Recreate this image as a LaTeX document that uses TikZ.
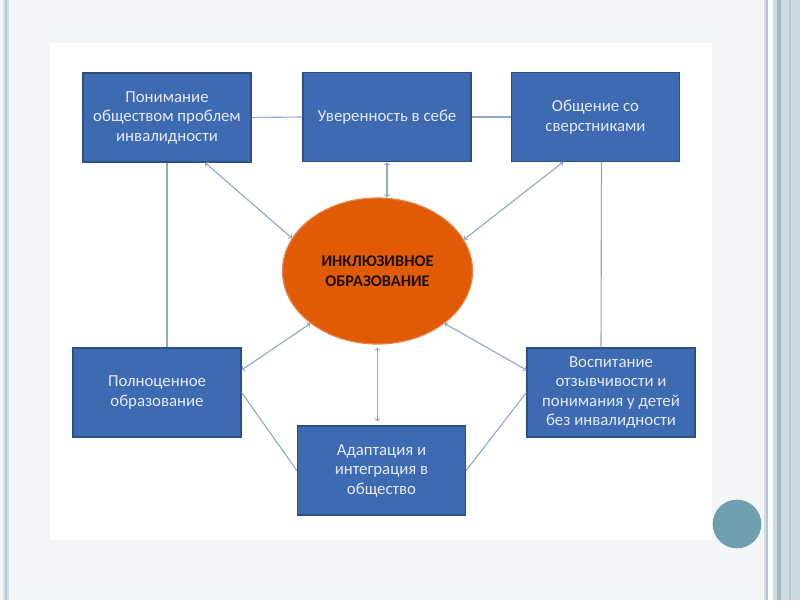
\documentclass[tikz,border=0pt]{standalone}
\usepackage{fontspec}
\setmainfont{Carlito}
\usetikzlibrary{shapes.geometric}
\definecolor{pagebg}{HTML}{F4F5F7}
\definecolor{stripe}{HTML}{D3DFE6}
\definecolor{stripedark}{HTML}{B3C6D2}
\definecolor{boxblue}{HTML}{3D6AB1}
\definecolor{boxedge}{HTML}{2C4F86}
\definecolor{boxtext}{HTML}{E4EAF3}
\definecolor{eduorange}{HTML}{E15A06}
\definecolor{linkblue}{HTML}{8DA8C8}
\definecolor{dotteal}{HTML}{6F9FAE}
\begin{document}
\begin{tikzpicture}[x=1pt, y=-1pt,
    block/.style={rectangle, draw=boxedge, line width=1.3pt, fill=boxblue,
      text=boxtext, minimum width=168pt, minimum height=89pt, inner sep=2pt,
      align=center, font=\fontsize{16.8}{19.5}\selectfont},
    link/.style={draw=linkblue, line width=1.1pt},
    twoway/.style={link, <->}]
    \useasboundingbox (0, 0) rectangle (800, 600) ;
    \fill[pagebg] (0, 0) rectangle (800, 600) ;
    \fill[stripe] (3, 0) rectangle (9, 600) ;
    \fill[stripedark] (5, 0) rectangle (7.3, 600) ;
    \fill[stripe] (764, 0) rectangle (766, 600) ;
    \fill[stripedark] (766, 0) rectangle (768, 600) ;
    \fill[white!90!stripe] (768, 0) rectangle (773, 600) ;
    \fill[stripe!80!stripedark] (773, 0) rectangle (800, 600) ;
    \fill[stripedark!90!black!95] (777, 0) rectangle (781, 600) ;
    \fill[stripedark] (789, 0) rectangle (791, 600) ;
    \fill[white] (50, 43) rectangle (712, 540) ;
    \fill[dotteal] (737, 524) circle (24.3) ;

    \node[block] (society) at (167, 117.5) {Понимание\\обществом проблем\\инвалидности} ;
    \node[block] (confidence) at (387, 117) {Уверенность в себе} ;
    \node[block] (peers) at (595.5, 117) {Общение со\\сверстниками} ;
    \node[block] (fulledu) at (157, 392.5) {Полноценное\\образование} ;
    \node[block] (adapt) at (381.5, 470.5) {Адаптация и\\интеграция в\\общество} ;
    \node[block] (empathy) at (611, 392.5) {Воспитание\\отзывчивости и\\понимания у детей\\без инвалидности} ;
    \node[ellipse, fill=eduorange, draw=eduorange!75!white, line width=1.2pt,
      minimum width=190pt, minimum height=146pt, inner sep=0pt, align=center,
      text=black!85!brown, font=\fontsize{16.3}{19.5}\selectfont\bfseries]
      (edu) at (377.5, 271) {ИНКЛЮЗИВНОЕ\\ОБРАЗОВАНИЕ} ;

    \draw[link] (society.east) -- (confidence.west) ;
    \draw[link] (confidence.east) -- (peers.west) ;
    \draw[link] (society.south) -- (society.south |- fulledu.north) ;
    \draw[link] ([xshift=6pt]peers.south) -- ([xshift=-10pt]empathy.north) ;
    \draw[link] (fulledu.east) -- (adapt.west) ;
    \draw[link] (adapt.east) -- (empathy.west) ;

    \draw[twoway] ([xshift=38pt]society.south) -- (edu.159) ;
    \draw[twoway] (confidence.south) -- (confidence.south |- edu.north) ;
    \draw[twoway] ([xshift=-32.5pt]peers.south) -- (edu.20) ;
    \draw[twoway] ([yshift=22.5pt]fulledu.east) -- (edu.218) ;
    \draw[twoway, shorten <=3pt, shorten >=4pt] (edu.south) -- (edu.south |- adapt.north) ;
    \draw[twoway] ([yshift=22.5pt]empathy.west) -- (edu.322) ;
  \end{tikzpicture}
\end{document}
